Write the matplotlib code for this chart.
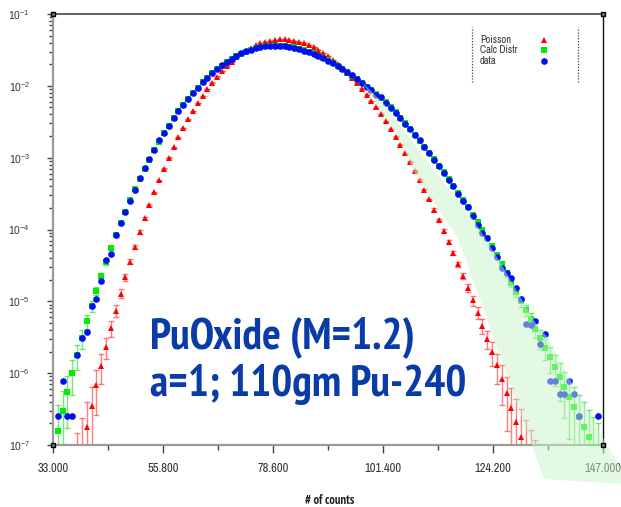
import numpy as np
import matplotlib
matplotlib.use("Agg")
import matplotlib.pyplot as plt
from matplotlib.ticker import FixedLocator, FuncFormatter, NullFormatter
from matplotlib.patches import Polygon
from matplotlib import font_manager
from matplotlib.font_manager import FontProperties

# ---------------- data ----------------
counts = list(range(34, 147))
poisson_x = list(range(37, 135))
poisson_log10 = [
    -7.703, -7.374, -7.057, -6.750, -6.455, -6.169, -5.894, -5.629, -5.374, -5.128,
    -4.892, -4.665, -4.446, -4.237, -4.036, -3.843, -3.659, -3.483, -3.315, -3.155,
    -3.002, -2.857, -2.719, -2.589, -2.466, -2.350, -2.241, -2.138, -2.043, -1.954,
    -1.871, -1.795, -1.726, -1.662, -1.605, -1.554, -1.509, -1.470, -1.436, -1.408,
    -1.386, -1.370, -1.359, -1.354, -1.354, -1.359, -1.370, -1.385, -1.406, -1.432,
    -1.463, -1.499, -1.540, -1.586, -1.637, -1.692, -1.752, -1.817, -1.886, -1.960,
    -2.038, -2.121, -2.208, -2.299, -2.395, -2.495, -2.600, -2.708, -2.821, -2.938,
    -3.059, -3.183, -3.312, -3.445, -3.582, -3.723, -3.867, -4.016, -4.168, -4.324,
    -4.484, -4.647, -4.814, -4.985, -5.159, -5.337, -5.519, -5.703, -5.892, -6.084,
    -6.279, -6.478, -6.680, -6.885, -7.094, -7.306, -7.521, -7.740,
]
calc_log10 = [
    -6.80, -6.53, -6.26, -6.00, -5.75, -5.51, -5.28, -5.06, -4.85, -4.65,
    -4.45, -4.26, -4.08, -3.91, -3.75, -3.59, -3.44, -3.30, -3.16, -3.03,
    -2.90, -2.78, -2.66, -2.555, -2.45, -2.355, -2.265, -2.18, -2.10, -2.025,
    -1.952, -1.888, -1.828, -1.772, -1.72, -1.673, -1.629, -1.59, -1.555, -1.525,
    -1.50, -1.48, -1.464, -1.452, -1.445, -1.441, -1.441, -1.445, -1.453, -1.465,
    -1.481, -1.50, -1.523, -1.549, -1.578, -1.61, -1.645, -1.683, -1.723, -1.765,
    -1.81, -1.857, -1.906, -1.957, -2.01, -2.062, -2.115, -2.165, -2.23, -2.298,
    -2.37, -2.445, -2.522, -2.60, -2.68, -2.762, -2.846, -2.932, -3.02, -3.11,
    -3.20, -3.295, -3.39, -3.49, -3.59, -3.69, -3.795, -3.90, -4.01, -4.12,
    -4.235, -4.355, -4.48, -4.61, -4.74, -4.87, -5.00, -5.12, -5.25, -5.38,
    -5.51, -5.645, -5.78, -5.915, -6.05, -6.19, -6.33, -6.47, -6.61, -6.75,
    -6.89, -7.03, -7.17,
]
data_log10 = [
    -6.59, -6.11, -6.59, -6.59, -5.75, -5.515, -5.42, -5.065, -4.97, -4.71,
    -4.43, -4.34, -4.07, -3.91, -3.75, -3.61, -3.45, -3.28, -3.15, -3.02,
    -2.90, -2.76, -2.66, -2.555, -2.45, -2.35, -2.267, -2.18, -2.096, -2.03,
    -1.95, -1.888, -1.826, -1.77, -1.714, -1.672, -1.622, -1.585, -1.547, -1.519,
    -1.497, -1.478, -1.459, -1.45, -1.446, -1.441, -1.441, -1.446, -1.455, -1.469,
    -1.487, -1.511, -1.533, -1.557, -1.585, -1.617, -1.65, -1.682, -1.72, -1.761,
    -1.807, -1.853, -1.90, -1.956, -2.012, -2.062, -2.123, -2.16, -2.235, -2.304,
    -2.374, -2.448, -2.527, -2.60, -2.68, -2.758, -2.847, -2.937, -3.027, -3.114,
    -3.21, -3.31, -3.395, -3.506, -3.608, -3.683, -3.81, -3.94, -4.045, -4.115,
    -4.26, -4.38, -4.54, -4.60, -4.68, -4.82, -4.97, -5.32, -5.33, -5.27,
    -5.59, -5.45, -6.11, -6.11, -6.29, -6.29, -6.11, -6.29, -6.59, None,
    None, None, -6.59,
]
N_TOTAL = 3.9e6

x_major = [33.0, 55.8, 78.6, 101.4, 124.2, 147.0]
x_minor = [44.4, 67.2, 90.0, 112.8, 135.6]
y_major = [1e-7, 1e-6, 1e-5, 1e-4, 1e-3, 1e-2, 1e-1]
y_limits = [1e-7, 1e-1]
x_limits = [33.0, 147.0]
series_labels = ["Poisson", "Calc Distr", "data"]
x_label = "# of counts"
title_lines = ["PuOxide (M=1.2)", "a=1; 110gm Pu-240"]

band_x = [97.04, 104.92, 107.82, 116.94, 134.76, 150.72, 150.72, 144.30, 135.59,
          132.90, 125.64, 120.46, 111.13, 101.81]
band_log10 = [-1.947, -2.754, -3.200, -4.118, -7.474, -7.543, -7.321, -6.597, -5.511,
              -5.288, -4.453, -3.896, -3.102, -2.267]


# ---------------- fonts ----------------
STRETCH_SCORE = {"semi-condensed": 4, "condensed": 3, "extra-condensed": 0,
                 "ultra-condensed": -2}


def find_narrow(bold):
    best = None
    best_score = -99
    for f in font_manager.fontManager.ttflist:
        n = f.name.lower()
        fn = f.fname.lower()
        st = f.stretch
        if isinstance(st, (int, float)):
            st = {100: "ultra-condensed", 200: "extra-condensed", 300: "condensed",
                  400: "semi-condensed"}.get(int(st), "normal")
        is_narrow = "narrow" in n or "narrow" in fn
        cond = is_narrow or st in STRETCH_SCORE or "condensed" in n or "condensed" in fn
        if not cond:
            continue
        if any(k in n for k in ("mono", "cjk", "display")) or ("serif" in n and "sans" not in n):
            continue
        if f.style != "normal":
            continue
        w = f.weight if isinstance(f.weight, (int, float)) else (700 if "bold" in str(f.weight) else 400)
        score = 0
        if bold and 650 <= w <= 750:
            score += 12
        elif bold and w >= 600:
            score += 8
        elif (not bold) and 380 <= w <= 420:
            score += 12
        if "liberation" in n:
            score += 8
        if is_narrow:
            score += 4
        if "extracondensed" in fn or "extra" in st:
            score -= 3
        elif "semicondensed" in fn or st == "semi-condensed":
            score += 2
        else:
            score += STRETCH_SCORE.get(st, 1)
        if score > best_score:
            best_score = score
            best = f.fname
    return best


narrow_bold = find_narrow(True)
narrow_reg = find_narrow(False)


def fp(bold, size):
    path = narrow_bold if bold else narrow_reg
    if path:
        return FontProperties(fname=path, size=size)
    return FontProperties(family="Liberation Sans", weight="bold" if bold else "normal", size=size)


plt.rcParams["font.family"] = ["Liberation Sans", "DejaVu Sans"]
plt.rcParams["mathtext.fontset"] = "custom"
plt.rcParams["mathtext.rm"] = "Liberation Sans"
plt.rcParams["mathtext.it"] = "Liberation Sans"

# ---------------- figure ----------------
fig = plt.figure(figsize=(6.21, 5.07), dpi=100)
ax = fig.add_axes([53 / 621, 1 - 445 / 507, 550 / 621, 431 / 507])
ax.set_yscale("log")
ax.set_xlim(*x_limits)
ax.set_ylim(*y_limits)


def errs(vals):
    sig = np.sqrt(vals * N_TOTAL) / N_TOTAL
    lower = np.minimum(sig, vals * (1 - 1e-9))
    return np.vstack([lower, sig])


px = np.array(poisson_x, dtype=float)
pv = 10 ** np.array(poisson_log10)
cx = np.array(counts, dtype=float)
cv = 10 ** np.array(calc_log10)
dl = np.array([np.nan if v is None else v for v in data_log10], dtype=float)
dv = 10 ** dl

ax.errorbar(px, pv, yerr=errs(pv), fmt="none", ecolor=(1.0, 0.15, 0.15, 0.6),
            elinewidth=1.0, capsize=2.2, capthick=1.0, zorder=2)
ax.plot(px, pv, linestyle="none", marker="^", ms=3.8, color="#ff0000",
        markeredgewidth=0, zorder=3)

ax.errorbar(cx, cv, yerr=errs(cv), fmt="none", ecolor=(0.1, 0.85, 0.1, 0.6),
            elinewidth=1.0, capsize=2.2, capthick=1.0, zorder=4)
ax.plot(cx, cv, linestyle="none", marker="s", ms=4.3, color="#00ee00",
        markeredgewidth=0, zorder=5)

ax.plot(cx, dv, linestyle="none", marker="o", ms=4.8, color="#0010f0",
        markeredgewidth=0, zorder=6)

band = Polygon(np.column_stack([band_x, 10 ** np.array(band_log10)]), closed=True,
               facecolor="#c8f5c8", edgecolor="none", alpha=0.5, zorder=20,
               clip_on=False)
ax.add_patch(band)

for s in ["left", "bottom"]:
    ax.spines[s].set_color("#9a9a9a")
    ax.spines[s].set_linewidth(1.6)
ax.spines["top"].set_color("#555555")
ax.spines["top"].set_linewidth(1.3)
ax.spines["right"].set_color("#111111")
ax.spines["right"].set_linewidth(1.0)

ax.xaxis.set_major_locator(FixedLocator(x_major))
ax.xaxis.set_minor_locator(FixedLocator(x_minor))
ax.xaxis.set_major_formatter(FuncFormatter(lambda v, p: f"{v:.3f}"))
ax.yaxis.set_major_locator(FixedLocator(y_major))
minor_y = [m * d for d in y_major[:-1] for m in range(2, 10)]
ax.yaxis.set_minor_locator(FixedLocator(minor_y))
ax.yaxis.set_minor_formatter(NullFormatter())
ax.yaxis.set_major_formatter(FuncFormatter(lambda v, p: r"$10^{%d}$" % round(np.log10(v))))

ax.tick_params(axis="x", which="major", direction="out", length=6, width=1.0,
               color="#444444", labelsize=8, labelcolor="#333333", pad=7)
ax.tick_params(axis="x", which="minor", direction="out", length=3.5, width=1.0,
               color="#444444")
ax.tick_params(axis="y", which="major", direction="out", length=4.5, width=1.0,
               color="#444444", labelsize=7.5, labelcolor="#333333", pad=12)
ax.tick_params(axis="y", which="minor", direction="out", length=2.8, width=1.0,
               color="#444444")
for lab in ax.get_xticklabels():
    lab.set_fontproperties(fp(False, 9))
    lab.set_color("#333333")

ax.plot([0, 1, 0, 1], [0, 0, 1, 1], transform=ax.transAxes, linestyle="none",
        marker="s", ms=3.2, mfc="#777777", mec="#000000", mew=1.0,
        clip_on=False, zorder=30)

# legend (manual)
leg_markers = ["^", "s", "o"]
leg_colors = ["#ff0000", "#00ee00", "#0010f0"]
leg_sizes = [3.8, 4.3, 4.8]
leg_y = [0.9397, 0.9165, 0.891]
for lab, m, c, ms, yy in zip(series_labels, leg_markers, leg_colors, leg_sizes, leg_y):
    ax.text(0.776, yy, lab, transform=ax.transAxes, fontproperties=fp(False, 7.5),
            color="#333333", va="center", ha="left")
    ax.plot([0.8927], [yy], transform=ax.transAxes, marker=m, ms=ms, color=c,
            markeredgewidth=0, linestyle="none", clip_on=False)
for xx in [0.7618, 0.9545]:
    ax.plot([xx, xx], [0.8422, 0.9698], transform=ax.transAxes, linestyle=(0, (1, 1.3)),
            color="#444444", lw=0.9)

# big annotation, sized so the two lines span about 270 px and 310 px
t1 = fig.text(150 / 621, 1 - 348 / 507, title_lines[0], fontproperties=fp(True, 29),
              color="#0a3ca8", ha="left", va="baseline")
t2 = fig.text(150 / 621, 1 - 396 / 507, title_lines[1], fontproperties=fp(True, 29),
              color="#0a3ca8", ha="left", va="baseline")
fig.canvas.draw()
r = fig.canvas.get_renderer()
w = t1.get_window_extent(r).width + t2.get_window_extent(r).width
size = 29 * 580.0 / w
t1.set_fontsize(size)
t2.set_fontsize(size)

fig.text(330 / 621, 1 - 500 / 507, x_label, fontproperties=fp(True, 9),
         color="#222222", ha="center", va="center")

fig.savefig("out.png", dpi=100)
